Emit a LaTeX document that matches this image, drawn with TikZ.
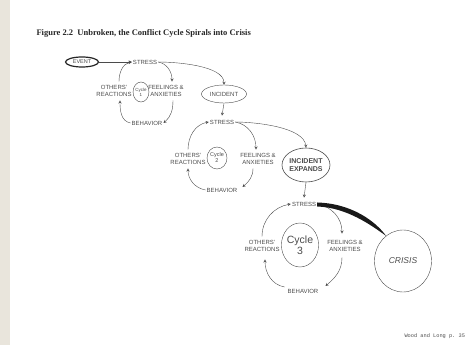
\documentclass[tikz,border=0pt]{standalone}
\usepackage{fontspec}
\setmainfont{Liberation Serif}
\setsansfont{Liberation Sans}
\setmonofont{Liberation Mono}
\usetikzlibrary{shapes.geometric}
\definecolor{paper}{RGB}{233,229,220}
\definecolor{ink}{RGB}{75,75,75}

\tikzset{
  lbl/.style={font=\sffamily\fontsize{6}{6.2}\selectfont, text=ink, align=center, inner xsep=1pt, inner ysep=4pt},
  cyclearrow/.style={->, >=stealth, color=ink, thin},
  cyclering/.style={ellipse, draw=ink, thin, inner sep=0pt, align=center, font=\sffamily, text=ink},
}

\begin{document}
\begin{tikzpicture}[x=1pt, y=1pt]
  \useasboundingbox (0,0) rectangle (466,345);
  \fill[paper] (0,0) rectangle (10,345); %%% page edge

  \node[anchor=west, font=\bfseries\fontsize{8.5}{9}\selectfont, text=black!85] (title) at (33,312) {Figure 2.2\ \ Unbroken, the Conflict Cycle Spirals into Crisis};

  %%% cycle 1
  \node[cyclering, draw=black!85, line width=1.2pt, minimum width=33pt, minimum height=10pt, font=\sffamily\fontsize{5.5}{6}\selectfont] (event) at (82,283) {EVENT};
  \node[lbl] (stressA) at (145,283) {STRESS};
  \node[lbl] (othA) at (114,254) {OTHERS'\\REACTIONS};
  \node[lbl] (feelA) at (166,254) {FEELINGS \&\\ANXIETIES};
  \node[lbl] (behA) at (147,222) {BEHAVIOR};
  \node[cyclering, minimum width=13pt, minimum height=20pt, font=\sffamily\fontsize{4.5}{5}\selectfont] (cycA) at (141,253) {Cycle\\1};
  \node[cyclering, minimum width=45pt, minimum height=18pt, font=\sffamily\fontsize{6}{6}\selectfont] (incident) at (224,251) {INCIDENT};

  \draw[cyclearrow] (event) -- (stressA);
  \draw[cyclearrow] (stressA.east) to[out=-10, in=90] ([xshift=6pt]feelA.north);
  \draw[cyclearrow] ([xshift=7pt]feelA.south) to[out=-90, in=40] (behA.east);
  \draw[cyclearrow] (behA.west) to[out=170, in=-90] ([xshift=6pt]othA.south);
  \draw[cyclearrow] ([xshift=5pt]othA.north) to[out=90, in=190] (stressA.west);
  \draw[cyclearrow] (stressA.east) to[out=0, in=90, looseness=0.7] (incident.north); %%% spiral out

  %%% cycle 2
  \node[lbl] (stressB) at (222,223) {STRESS};
  \node[lbl] (othB) at (188,186) {OTHERS'\\REACTIONS};
  \node[lbl] (feelB) at (258,186) {FEELINGS \&\\ANXIETIES};
  \node[lbl] (behB) at (222,155) {BEHAVIOR};
  \node[cyclering, minimum width=20pt, minimum height=22pt, font=\sffamily\fontsize{5.5}{6}\selectfont] (cycB) at (217,187) {Cycle\\2};
  \node[cyclering, semithick, minimum width=48pt, minimum height=34pt, font=\sffamily\bfseries\fontsize{7}{8.5}\selectfont] (incExp) at (306,180) {INCIDENT\\EXPANDS};

  \draw[cyclearrow] (incident.south) -- (stressB.north);
  \draw[cyclearrow] (stressB.east) to[out=-10, in=90] ([xshift=-2pt]feelB.north);
  \draw[cyclearrow] ([xshift=-5pt]feelB.south) to[out=-90, in=40] ([shift={(4pt,3pt)}]behB.east);
  \draw[cyclearrow] (behB.west) to[out=170, in=-90] (othB.south);
  \draw[cyclearrow] (othB.north) to[out=90, in=190] (stressB.west);
  \draw[cyclearrow] (stressB.east) to[out=0, in=95, looseness=0.7] (incExp.north); %%% spiral out

  %%% cycle 3
  \node[lbl] (stressC) at (304,141) {STRESS};
  \node[lbl] (othC) at (262,99) {OTHERS'\\REACTIONS};
  \node[lbl] (feelC) at (345,99) {FEELINGS \&\\ANXIETIES};
  \node[lbl] (behC) at (303,54) {BEHAVIOR};
  \node[cyclering, minimum width=34pt, minimum height=44pt, font=\sffamily\fontsize{10.5}{11}\selectfont] (cycC) at (300,100) {Cycle\\3};
  \node[cyclering, minimum width=57pt, minimum height=62pt, font=\sffamily\itshape\fontsize{8.5}{9}\selectfont] (crisis) at (403,84) {CRISIS};

  \draw[cyclearrow] (incExp.south) -- (stressC.north);
  \draw[cyclearrow] (stressC.east) to[out=-10, in=90] ([shift={(-3pt,3pt)}]feelC.north);
  \draw[cyclearrow] ([shift={(-3pt,-2pt)}]feelC.south) to[out=-90, in=40] ([shift={(6pt,5pt)}]behC.east);
  \draw[cyclearrow] ([shift={(-2pt,4pt)}]behC.west) to[out=170, in=-90] ([shift={(3pt,-4pt)}]othC.south);
  \draw[cyclearrow] (othC.north) to[out=90, in=190] (stressC.west);
  \fill[black!90] ([yshift=1.5pt]stressC.east) .. controls +(35,-1) and +(-10,14) .. (crisis.124)
      .. controls +(-14,10) and +(30,-1) .. ([yshift=-2.5pt]stressC.east) -- cycle; %%% brush stroke into crisis

  \node[anchor=west, font=\ttfamily\fontsize{5.3}{6}\selectfont, text=ink] (source) at (401,9) {Wood and Long p. 35};
\end{tikzpicture}
\end{document}
